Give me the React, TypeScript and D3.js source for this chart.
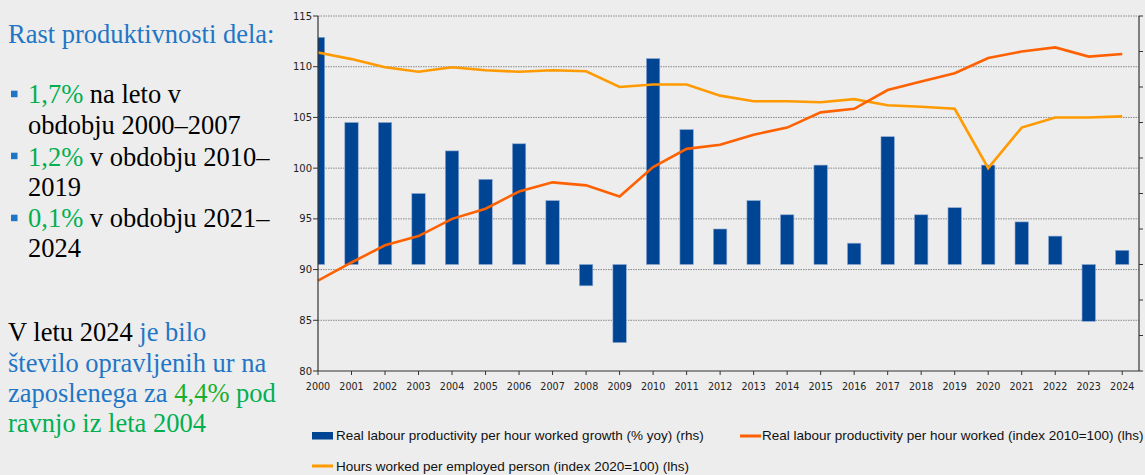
import React from "react";
import * as d3 from "d3";

const years = ["2000","2001","2002","2003","2004","2005","2006","2007","2008","2009","2010","2011","2012","2013","2014","2015","2016","2017","2018","2019","2020","2021","2022","2023","2024"];
const growth = [6.4, 4.0, 4.0, 2.0, 3.2, 2.4, 3.4, 1.8, -0.6, -2.2, 5.8, 3.8, 1.0, 1.8, 1.4, 2.8, 0.6, 3.6, 1.4, 1.6, 2.8, 1.2, 0.8, -1.6, 0.4];
const productivity = [88.9, 90.7, 92.4, 93.3, 95.0, 96.0, 97.7, 98.6, 98.3, 97.2, 100.1, 101.9, 102.3, 103.3, 104.0, 105.5, 105.85, 107.7, 108.55, 109.35, 110.85, 111.5, 111.9, 111.0, 111.25];
const hours = [111.4, 110.75, 109.95, 109.5, 109.95, 109.65, 109.5, 109.65, 109.55, 108.0, 108.25, 108.25, 107.15, 106.6, 106.6, 106.5, 106.8, 106.2, 106.05, 105.85, 100.0, 104.0, 105.0, 105.0, 105.1];
const leftTicks = [80, 85, 90, 95, 100, 105, 110, 115];
const rightTicks = [-3, -2, -1, 0, 1, 2, 3, 4, 5, 6, 7];
const legendLabels = [
  "Real labour productivity per hour worked growth (% yoy) (rhs)",
  "Real labour productivity per hour worked (index 2010=100) (lhs)",
  "Hours worked per employed person (index 2020=100) (lhs)",
];

const W = 1145, H = 475;
const L = 318, R = 1139, T = 16, B = 371;
const BLUE = "#004494";
const RED = "#ff6100";
const AMBER = "#ff9a00";
const TXTBLUE = "#1f76c6";
const GREEN = "#00b050";
const BLACK = "#000";
const SERIF = "'Liberation Serif', 'Times New Roman', serif";
const SANS = "'DejaVu Sans', sans-serif";
const NARROW = "'Liberation Sans Narrow', 'Arial Narrow', sans-serif";

export default function App() {
  const x = d3.scaleLinear().domain([0, 24.5]).range([L, R]);
  const yL = d3.scaleLinear().domain([80, 115]).range([B, T]);
  const yR = d3.scaleLinear().domain([-3, 7]).range([B, T]);
  const barW = 13.4;
  const lineGen = d3.line<number>().x((_, i) => x(i)).y((d) => yL(d));

  const fs = 26.5;
  const bullets = [94, 156, 218];

  return (
    <svg width={W} height={H} style={{ position: "absolute", left: 0, top: 0 }} xmlns="http://www.w3.org/2000/svg">
      <defs>
        <clipPath id="plot">
          <rect x={L} y={T} width={R - L} height={B - T} />
        </clipPath>
      </defs>
      <rect x={0} y={0} width={W} height={H} fill="#ededed" />

      {/* left text */}
      <g fontFamily={SERIF} fontSize={fs}>
        <text x={8} y={43} fill={TXTBLUE}>Rast produktivnosti dela:</text>
        {bullets.map((cy, i) => (
          <rect key={i} x={11} y={cy - 3.3} width={6.5} height={6.5} fill={TXTBLUE} />
        ))}
        <text x={28} y={103}><tspan fill={GREEN}>1,7%</tspan><tspan fill={BLACK}> na leto v</tspan></text>
        <text x={28} y={134} fill={BLACK}>obdobju 2000–2007</text>
        <text x={28} y={165.5}><tspan fill={GREEN}>1,2%</tspan><tspan fill={BLACK}> v obdobju 2010–</tspan></text>
        <text x={28} y={195.5} fill={BLACK}>2019</text>
        <text x={28} y={226.7}><tspan fill={GREEN}>0,1%</tspan><tspan fill={BLACK}> v obdobju 2021–</tspan></text>
        <text x={28} y={257} fill={BLACK}>2024</text>

        <text x={8} y={340.5}><tspan fill={BLACK}>V letu 2024 </tspan><tspan fill={TXTBLUE}>je bilo</tspan></text>
        <text x={8} y={371.5} fill={TXTBLUE}>število opravljenih ur na</text>
        <text x={8} y={401.7}><tspan fill={TXTBLUE}>zaposlenega za </tspan><tspan fill="#1aae2a">4,4%</tspan><tspan fill={GREEN}> pod</tspan></text>
        <text x={8} y={432.3} fill={GREEN}>ravnjo iz leta 2004</text>
      </g>

      {/* gridlines */}
      {leftTicks.filter((t) => t > 80).map((t) => (
        <line key={t} x1={L} x2={R} y1={yL(t)} y2={yL(t)} stroke="#8a8a8a" strokeWidth={1} strokeDasharray="1.5 1" />
      ))}

      {/* bars */}
      <g clipPath="url(#plot)">
        {growth.map((g, i) => (
          <rect key={i} x={x(i) - barW / 2} y={Math.min(yR(g), yR(0))} width={barW}
            height={Math.abs(yR(g) - yR(0))} fill={BLUE} stroke="#8fa9d2" strokeWidth={0.6} />
        ))}
      </g>

      {/* lines */}
      <path d={lineGen(hours) || ""} fill="none" stroke={AMBER} strokeWidth={2.6} strokeLinejoin="miter" />
      <path d={lineGen(productivity) || ""} fill="none" stroke={RED} strokeWidth={2.6} strokeLinejoin="miter" />

      {/* axes */}
      <line x1={L} x2={L} y1={T} y2={B} stroke="#333" strokeWidth={1.2} />
      <line x1={R} x2={R} y1={T} y2={B} stroke="#333" strokeWidth={1.2} />
      <line x1={L} x2={R} y1={B} y2={B} stroke="#333" strokeWidth={1.2} />
      {leftTicks.map((t) => (
        <g key={t}>
          <line x1={L - 5} x2={L} y1={yL(t)} y2={yL(t)} stroke="#333" />
          <text x={L - 6} y={yL(t)} dy="0.35em" textAnchor="end" fontFamily={SANS} fontSize={10} fill="#222">{t}</text>
        </g>
      ))}
      {rightTicks.map((t) => (
        <line key={t} x1={R} x2={R + 4} y1={yR(t)} y2={yR(t)} stroke="#333" />
      ))}
      {years.map((yr, i) => (
        <g key={yr}>
          <line x1={x(i)} x2={x(i)} y1={B} y2={B + 4} stroke="#333" />
          <text x={x(i)} y={390} textAnchor="middle" fontFamily={SANS} fontSize={9.6} fill="#222">{yr}</text>
        </g>
      ))}

      {/* legend */}
      <g fontFamily={NARROW} fontSize={13.5} fill="#111">
        <rect x={312} y={432} width={21} height={7.5} fill={BLUE} />
        <text x={336} y={440}>{legendLabels[0]}</text>
        <line x1={740} x2={761} y1={436} y2={436} stroke={RED} strokeWidth={3} />
        <text x={762} y={440}>{legendLabels[1]}</text>
        <line x1={312} x2={333} y1={466} y2={466} stroke={AMBER} strokeWidth={3} />
        <text x={336} y={470.5}>{legendLabels[2]}</text>
      </g>
    </svg>
  );
}
